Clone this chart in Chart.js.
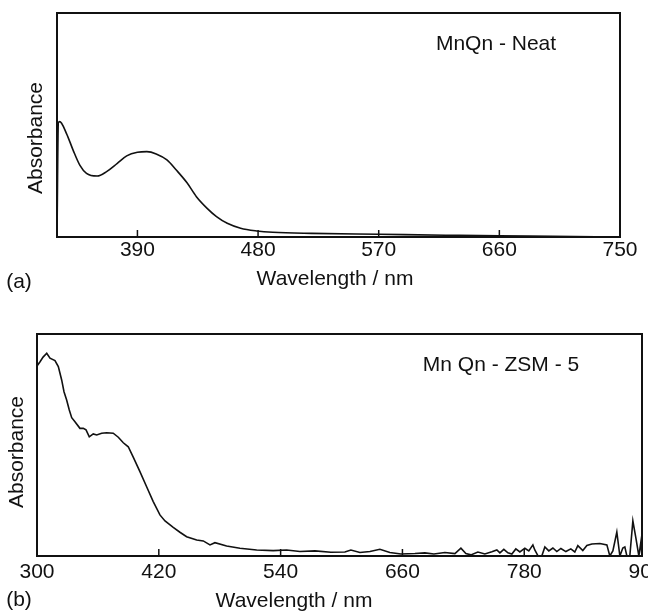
<!DOCTYPE html>
<html>
<head>
<meta charset="utf-8">
<script src="https://cdn.jsdelivr.net/npm/chart.js@4.4.1/dist/chart.umd.min.js"></script>
<style>
  body { margin: 0; background: #fff; }
  canvas { display: block; }
</style>
</head>
<body>
<canvas id="chartA" width="648" height="300"></canvas>
<canvas id="chartB" width="648" height="312"></canvas>
<script>
/* ========= DATA ========= */
// (a) MnQn - Neat
const neatWave = [330, 331, 332, 337, 342, 347, 352, 360, 367, 375, 382, 390, 397, 404, 412,
                  419, 427, 434, 442, 449, 457, 467, 479, 491, 520, 570, 620, 660, 700, 750];
const neatAbs  = [0, 0.51, 0.515, 0.463, 0.388, 0.321, 0.284, 0.272, 0.292, 0.329, 0.362, 0.378, 0.381, 0.371, 0.344,
                  0.299, 0.242, 0.180, 0.128, 0.091, 0.061, 0.039, 0.027, 0.021, 0.016, 0.012, 0.008, 0.005, 0.003, 0.0];
const neatTicks = [390, 480, 570, 660, 750];

// (b) Mn Qn - ZSM - 5
const zsmWave = [300, 303, 306, 309.6, 312.8, 317.7, 321, 324.3, 326.6, 329.2, 331.8, 334.2, 337.4, 342.3, 345.6,
                 348.3, 351.5, 355.4, 358.8, 363.7, 368.6, 375.1, 380.1, 385, 389.9, 394.8, 401.4, 408, 414.5, 421.1,
                 426.1, 434.2, 440.8, 447.4, 457.3, 463.8, 470.4, 475.3, 486.8, 499.9, 516.4, 532.7, 545.9, 559, 573.8,
                 589.5, 603.3, 609.2, 618.1, 628, 637.8, 647.6, 658.5, 672.3, 682.1, 691, 701.8, 711.7, 717.6, 722.5,
                 727.4, 734.3, 741.2, 748.1, 753, 756, 759.9, 763.9, 767.8, 771.7, 775.7, 780.6, 784.5, 788.5, 790.4,
                 793.4, 797.3, 800.3, 804.2, 808.2, 812.1, 816.1, 821, 825.9, 829.8, 832.8, 837.7, 841.7, 846.6, 854.5,
                 861.4, 864.3, 867.3, 871.2, 874.2, 877.1, 879.1, 881.1, 884, 887, 890, 892.9, 894.9, 895.9];
const zsmAbs  = [0.856, 0.875, 0.896, 0.913, 0.891, 0.880, 0.853, 0.793, 0.740, 0.703, 0.658, 0.623, 0.605, 0.575, 0.575,
                 0.568, 0.537, 0.550, 0.545, 0.553, 0.555, 0.553, 0.535, 0.510, 0.492, 0.445, 0.380, 0.312, 0.245, 0.185,
                 0.158, 0.129, 0.107, 0.087, 0.072, 0.068, 0.050, 0.060, 0.045, 0.035, 0.027, 0.024, 0.027, 0.020, 0.023,
                 0.017, 0.018, 0.027, 0.016, 0.020, 0.030, 0.016, 0.009, 0.011, 0.014, 0.009, 0.016, 0.011, 0.035, 0.011,
                 0.005, 0.018, 0.009, 0.019, 0.027, 0.014, 0.030, 0.014, 0.009, 0.032, 0.018, 0.035, 0.023, 0.050, 0.027,
                 0.002, 0.0, 0.041, 0.023, 0.036, 0.020, 0.034, 0.020, 0.032, 0.018, 0.047, 0.025, 0.047, 0.054, 0.056,
                 0.050, 0.0, 0.023, 0.108, 0.0, 0.036, 0.041, 0.0, 0.0, 0.158, 0.081, 0.0, 0.063, 0.0];
const zsmTicks = [300, 420, 540, 660, 780, 900];

/* ========= STYLE ========= */
const FONT = "'Liberation Sans', Arial, Helvetica, sans-serif";
const INK  = "#111";
const FSIZE = 21;

/* frame, inward tick marks and free texts */
const panelPlugin = {
  id: "panel",
  afterDraw(chart, args, opts) {
    const { ctx, chartArea: a } = chart;
    const x = chart.scales.x;
    ctx.save();
    ctx.strokeStyle = INK;
    ctx.lineWidth = 2;
    ctx.strokeRect(a.left, a.top, a.right - a.left, a.bottom - a.top);

    ctx.lineWidth = 1.5;
    x.ticks.forEach(t => {
      const px = x.getPixelForValue(t.value);
      if (px <= a.left + 2 || px >= a.right - 2) return;
      ctx.beginPath();
      ctx.moveTo(px, a.bottom);
      ctx.lineTo(px, a.bottom - 7);
      ctx.stroke();
    });

    ctx.fillStyle = INK;
    ctx.font = FSIZE + "px " + FONT;
    ctx.textAlign = "center";
    ctx.textBaseline = "middle";
    (opts.texts || []).forEach(t => {
      ctx.save();
      ctx.translate(t.x, t.y);
      if (t.rot) ctx.rotate(t.rot);
      ctx.fillText(t.text, 0, 0);
      ctx.restore();
    });
    ctx.restore();
  }
};

function makePanel(id, wave, abs, ticks, xMin, xMax, tension, pad, axisH, tickPad, texts) {
  return new Chart(document.getElementById(id), {
    type: "line",
    data: {
      datasets: [{
        data: wave.map((w, i) => ({ x: w, y: abs[i] })),
        borderColor: INK,
        borderWidth: 1.6,
        pointRadius: 0,
        tension: tension,
        cubicInterpolationMode: tension ? "monotone" : "default",
        fill: false
      }]
    },
    options: {
      responsive: false,
      animation: false,
      devicePixelRatio: 1,
      layout: { padding: pad },
      plugins: {
        legend: { display: false },
        tooltip: { enabled: false },
        panel: { texts: texts }
      },
      scales: {
        x: {
          type: "linear",
          min: xMin,
          max: xMax,
          afterBuildTicks: s => { s.ticks = ticks.map(v => ({ value: v })); },
          afterFit: s => { s.height = axisH; s.paddingLeft = 0; s.paddingRight = 0; },
          grid: { display: false, drawTicks: false },
          border: { display: false },
          ticks: {
            autoSkip: false, maxRotation: 0, padding: tickPad, color: INK,
            font: { family: FONT, size: FSIZE }
          }
        },
        y: { display: false, min: 0, max: 1 }
      }
    },
    plugins: [panelPlugin]
  });
}

/* ========= PANELS ========= */
makePanel("chartA", neatWave, neatAbs, neatTicks, 330, 750, 0.4,
  { left: 57, right: 28, top: 13, bottom: 0 }, 63, 1, [
    { text: "MnQn - Neat", x: 496, y: 44 },
    { text: "(a)", x: 19, y: 282 },
    { text: "Wavelength / nm", x: 335, y: 279 },
    { text: "Absorbance", x: 36, y: 138, rot: -Math.PI / 2 }
  ]);

makePanel("chartB", zsmWave, zsmAbs, zsmTicks, 300, 896, 0,
  { left: 37, right: 6, top: 34, bottom: 0 }, 56, 4, [
    { text: "Mn Qn - ZSM - 5", x: 501, y: 65 },
    { text: "(b)", x: 19, y: 300 },
    { text: "Wavelength / nm", x: 294, y: 301 },
    { text: "Absorbance", x: 17, y: 152, rot: -Math.PI / 2 }
  ]);
</script>
</body>
</html>
